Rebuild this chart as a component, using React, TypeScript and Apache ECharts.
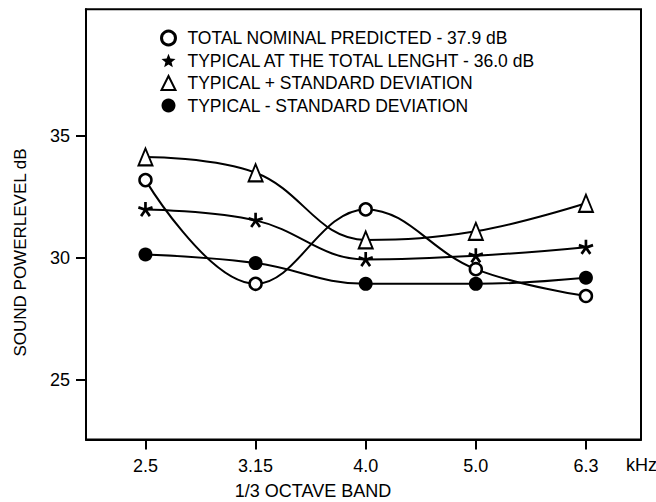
import React, { useEffect, useRef } from "react";
import * as echarts from "echarts";

const categories = ["2.5", "3.15", "4.0", "5.0", "6.3"];
const seriesNames = [
  "TOTAL NOMINAL PREDICTED - 37.9 dB",
  "TYPICAL AT THE TOTAL LENGHT - 36.0 dB",
  "TYPICAL + STANDARD DEVIATION",
  "TYPICAL - STANDARD DEVIATION",
];
const nominalPredicted = [33.2, 28.95, 32.0, 29.55, 28.45];
const typicalTotal = [32.0, 31.55, 29.95, 30.1, 30.45];
const typicalPlusSD = [34.15, 33.5, 30.75, 31.1, 32.25];
const typicalMinusSD = [30.15, 29.8, 28.95, 28.95, 29.2];
const yTicks = [25, 30, 35];
const xTicks = [0, 1, 2, 3, 4];

function asteriskPath(): string {
  const L = 50;
  const w = 9;
  const cx = 60;
  const cy = 60;
  let d = "";
  for (let k = 0; k < 5; k++) {
    const a = (-90 + k * 72) * (Math.PI / 180);
    const dx = Math.cos(a), dy = Math.sin(a);
    const px = -dy, py = dx;
    const p1 = [cx + px * w, cy + py * w];
    const p2 = [cx + dx * L + px * w, cy + dy * L + py * w];
    const p3 = [cx + dx * L - px * w, cy + dy * L - py * w];
    const p4 = [cx - px * w, cy - py * w];
    d += `M${p1[0].toFixed(2)} ${p1[1].toFixed(2)} L${p2[0].toFixed(2)} ${p2[1].toFixed(2)} L${p3[0].toFixed(2)} ${p3[1].toFixed(2)} L${p4[0].toFixed(2)} ${p4[1].toFixed(2)} Z `;
  }
  return "path://" + d;
}

function starPath(): string {
  const cx = 50, cy = 50, R = 50, r = 22;
  let d = "";
  for (let k = 0; k < 10; k++) {
    const a = (-90 + k * 36) * (Math.PI / 180);
    const rr = k % 2 === 0 ? R : r;
    d += `${k === 0 ? "M" : "L"}${(cx + rr * Math.cos(a)).toFixed(2)} ${(cy + rr * Math.sin(a)).toFixed(2)} `;
  }
  return "path://" + d + "Z";
}

const FONT = "'Liberation Sans', Arial, Helvetica, sans-serif";
const FS = 18;

export default function App() {
  const ref = useRef<HTMLDivElement>(null);
  useEffect(() => {
    if (!ref.current) return;
    const chart = echarts.init(ref.current, undefined, { renderer: "svg" });
    const asterisk = asteriskPath();
    const star = starPath();
    const toPairs = (arr: number[]) => arr.map((v, i) => [i, v]);
    const lineStyle = { color: "#000", width: 2 };
    chart.setOption({
      animation: false,
      backgroundColor: "#fff",
      textStyle: { fontFamily: FONT, color: "#000" },
      grid: {
        left: 86,
        right: 15,
        top: 9.3,
        bottom: 62.5,
        show: true,
        borderColor: "#000",
        borderWidth: 2,
        backgroundColor: "transparent",
      },
      legend: {
        orient: "vertical",
        left: 155,
        top: 24,
        itemGap: 4.5,
        itemWidth: 14,
        itemHeight: 14,
        textStyle: { fontSize: 17.5, color: "#000", fontFamily: FONT, padding: [0, 0, 0, 7] },
        data: [
          { name: seriesNames[0], icon: "circle", itemStyle: { color: "#fff", borderColor: "#000", borderWidth: 3 } },
          { name: seriesNames[1], icon: star, itemStyle: { color: "#000", borderWidth: 0 } },
          { name: seriesNames[2], icon: "triangle", itemStyle: { color: "#fff", borderColor: "#000", borderWidth: 2 } },
          { name: seriesNames[3], icon: "circle", itemStyle: { color: "#000", borderWidth: 0 } },
        ],
      },
      xAxis: {
        type: "value",
        min: -0.54,
        max: 4.5,
        splitLine: { show: false },
        axisLine: { show: true, onZero: false, lineStyle: { color: "#000", width: 2 } },
        axisTick: { show: true, length: 10, inside: false, customValues: xTicks, lineStyle: { color: "#000", width: 2 } },
        axisLabel: {
          customValues: xTicks,
          formatter: (v: number) => categories[Math.round(v)] ?? "",
          fontSize: FS,
          color: "#000",
          fontFamily: FONT,
          margin: 17,
        },
      },
      yAxis: {
        type: "value",
        min: 22.57,
        max: 40.2,
        splitLine: { show: false },
        axisLine: { show: true, onZero: false, lineStyle: { color: "#000", width: 2 } },
        axisTick: { show: true, length: 10, inside: false, customValues: yTicks, lineStyle: { color: "#000", width: 2 } },
        axisLabel: {
          customValues: yTicks,
          fontSize: FS,
          color: "#000",
          fontFamily: FONT,
          margin: 16,
        },
      },
      graphic: [
        {
          type: "text",
          x: 626,
          y: 465,
          style: { text: "kHz", fontSize: FS, fill: "#000", fontFamily: FONT, align: "left", verticalAlign: "middle" },
        },
        {
          type: "text",
          x: 313,
          y: 491,
          style: { text: "1/3 OCTAVE BAND", fontSize: FS, fill: "#000", fontFamily: FONT, align: "center", verticalAlign: "middle" },
        },
        {
          type: "text",
          x: 20,
          y: 252.5,
          rotation: Math.PI / 2,
          style: { text: "SOUND POWERLEVEL dB", fontSize: 17, fill: "#000", fontFamily: FONT, align: "center", verticalAlign: "middle" },
        },
      ],
      series: [
        {
          name: seriesNames[0],
          type: "line",
          smooth: 0.4,
          data: toPairs(nominalPredicted),
          symbol: "circle",
          symbolSize: 12,
          itemStyle: { color: "#fff", borderColor: "#000", borderWidth: 2.5 },
          lineStyle,
          z: 2,
        },
        {
          name: seriesNames[1],
          type: "line",
          smooth: 0.4,
          data: toPairs(typicalTotal),
          symbol: asterisk,
          symbolSize: 15,
          itemStyle: { color: "#000" },
          lineStyle,
          z: 2,
        },
        {
          name: seriesNames[2],
          type: "line",
          smooth: 0.4,
          data: toPairs(typicalPlusSD),
          symbol: "triangle",
          symbolSize: [14, 17],
          itemStyle: { color: "#fff", borderColor: "#000", borderWidth: 2 },
          lineStyle,
          z: 2,
        },
        {
          name: seriesNames[3],
          type: "line",
          smooth: 0.4,
          data: toPairs(typicalMinusSD),
          symbol: "circle",
          symbolSize: 14,
          itemStyle: { color: "#000" },
          lineStyle,
          z: 2,
        },
      ],
    });
    return () => chart.dispose();
  }, []);
  return (
    <div
      ref={ref}
      style={{ position: "fixed", left: 0, top: 0, width: 656, height: 502, background: "#fff" }}
    />
  );
}
